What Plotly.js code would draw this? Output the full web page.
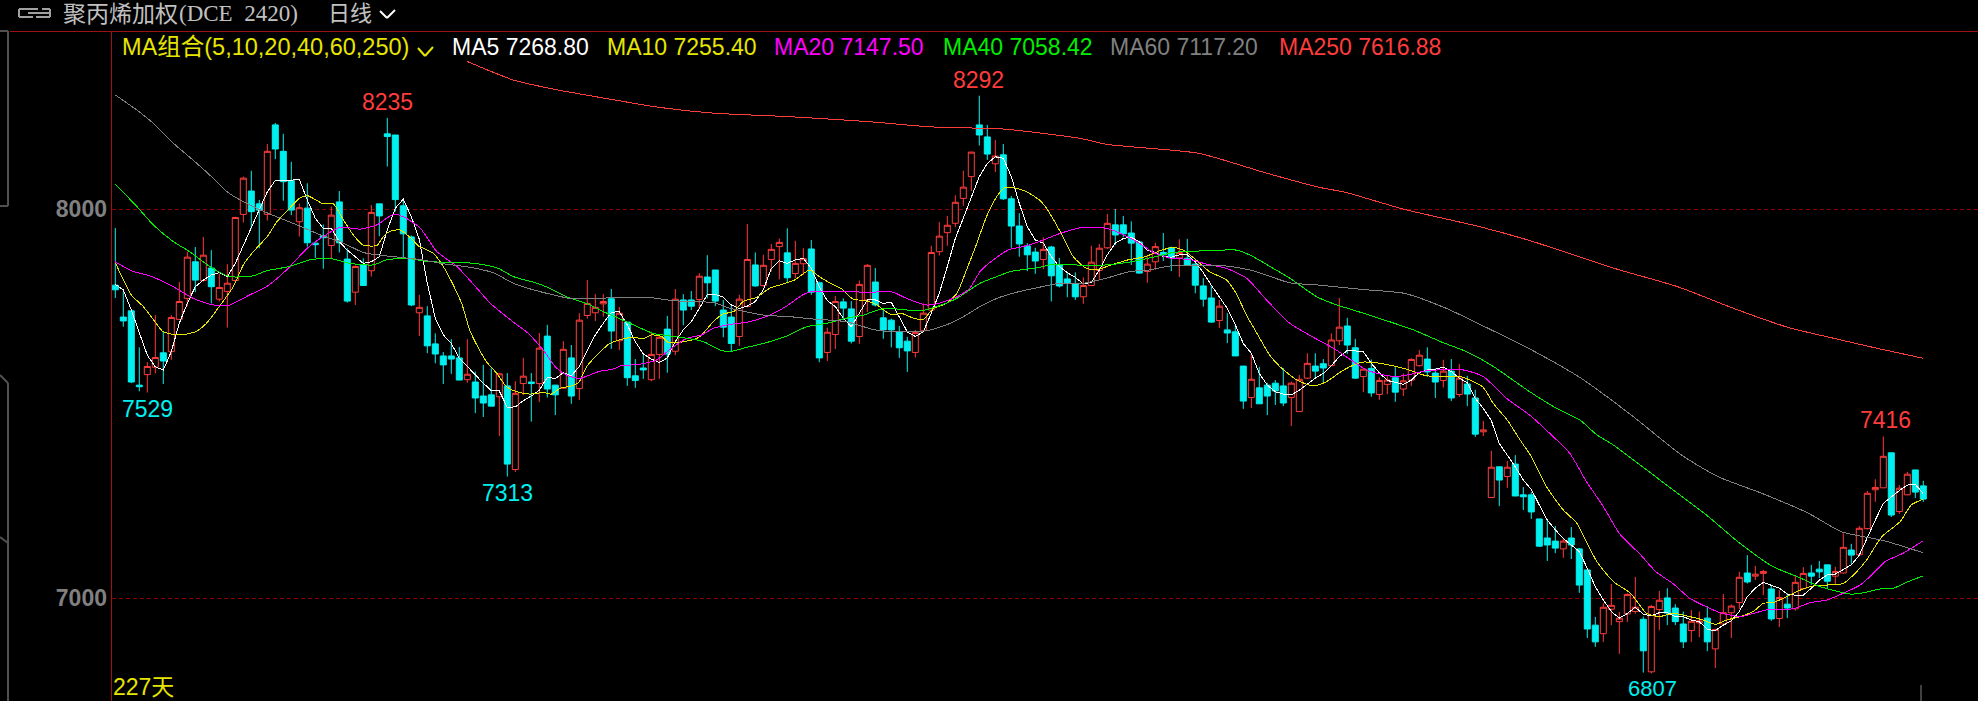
<!DOCTYPE html>
<html>
<head>
<meta charset="utf-8">
<script src="https://cdn.plot.ly/plotly-3.0.1.min.js"></script>
<style>html,body{margin:0;padding:0;background:#000;overflow:hidden}#chart{width:1978px;height:701px}
.scatterlayer .js-line{shape-rendering:crispEdges}</style>
</head>
<body>
<div id="chart"></div>
<script>
const opens=[7805,7723,7739,7548,7575,7594,7631,7634,7717,7771,
7865,7817,7849,7769,7789,7817,7987,8047,8014,7987,
8217,8149,8074,7968,8003,7913,7932,7907,8019,7872,
7787,7858,7842,8014,8194,8191,8009,7929,7734,7726,
7654,7623,7623,7618,7562,7556,7520,7523,7518,7546,
7331,7552,7556,7552,7674,7548,7540,7618,7539,7727,
7734,7757,7770,7662,7710,7572,7592,7562,7627,7692,
7635,7767,7767,7768,7826,7844,7741,7723,7673,7750,
7857,7804,7871,7904,7888,7835,7860,7898,7811,7632,
7678,7762,7744,7673,7767,7813,7721,7715,7685,7661,
7632,7688,7741,7891,7940,7964,8028,8084,8217,8186,
8117,8140,8027,7957,7906,7890,7871,7903,7857,7821,
7809,7775,7804,7843,7901,7960,7960,7939,7916,7840,
7865,7889,7901,7875,7874,7859,7803,7772,7714,7690,
7685,7597,7516,7541,7548,7553,7546,7516,7480,7566,
7597,7603,7598,7662,7700,7644,7570,7591,7524,7550,
7567,7538,7561,7598,7615,7579,7560,7584,7524,7551,
7515,7428,7259,7338,7313,7345,7266,7266,7204,7155,
7147,7127,7155,7127,7073,6931,6909,6972,6940,6960,
6966,6946,6811,6971,7001,6975,6934,6917,6937,6949,
6870,6934,6963,6989,7065,7057,7064,7024,6948,6985,
6973,7025,7065,7075,7086,7057,7065,7124,7112,7179,
7279,7284,7374,7223,7266,7330,7289];
const closes=[7793,7713,7556,7544,7596,7619,7610,7722,7763,7877,
7818,7882,7801,7799,7810,7979,8080,7994,7998,8149,
8155,8071,7998,8004,7914,7909,7927,7985,7914,7764,
7853,7804,7992,7983,8187,8025,7937,7754,7748,7649,
7628,7600,7615,7561,7576,7515,7502,7494,7577,7345,
7527,7571,7552,7643,7538,7523,7640,7520,7715,7758,
7748,7763,7687,7733,7567,7560,7587,7627,7671,7628,
7769,7741,7751,7828,7811,7764,7697,7655,7769,7871,
7803,7856,7897,7915,7824,7861,7873,7787,7618,7684,
7763,7746,7661,7807,7856,7754,7690,7690,7644,7636,
7683,7733,7889,7931,7959,8018,8057,8147,8191,8142,
8137,8027,7957,7911,7883,7867,7897,7829,7803,7811,
7775,7804,7864,7900,7964,7934,7937,7913,7836,7859,
7904,7883,7875,7889,7857,7805,7769,7710,7751,7682,
7623,7507,7563,7500,7520,7533,7502,7553,7563,7604,
7584,7592,7664,7697,7651,7566,7589,7528,7560,7561,
7530,7559,7614,7625,7582,7556,7584,7515,7566,7525,
7422,7433,7337,7304,7337,7263,7261,7222,7134,7137,
7129,7147,7137,7034,6921,6888,6977,6982,6949,7010,
6977,6865,6979,6995,6962,6940,6888,6941,6942,6888,
6920,6963,6980,7054,7042,7062,7069,6947,7002,6975,
7041,7064,7057,7068,7044,7069,7131,7111,7180,7270,
7285,7365,7214,7283,7319,7273,7255];
const highs=[7952,7788,7739,7645,7607,7728,7685,7728,7813,7891,
7903,7929,7895,7835,7859,7981,8084,8099,8024,8168,
8222,8194,8122,8015,8067,7915,7961,8007,8047,7900,
7856,7874,8011,8014,8235,8191,8026,7933,7780,7751,
7681,7633,7666,7646,7666,7583,7600,7591,7580,7579,
7558,7618,7579,7682,7703,7549,7661,7651,7733,7818,
7782,7782,7795,7749,7710,7615,7626,7685,7677,7726,
7795,7782,7790,7836,7882,7844,7767,7754,7780,7962,
7889,7883,7911,7925,7951,7919,7900,7921,7814,7696,
7777,7771,7764,7817,7859,7849,7741,7719,7700,7672,
7690,7758,7906,7967,7983,8036,8099,8147,8292,8217,
8178,8168,8034,7990,7913,7901,7928,7906,7875,7837,
7838,7825,7906,7911,7988,8001,7983,7969,7919,7883,
7914,7939,7904,7923,7924,7863,7823,7803,7767,7733,
7703,7597,7628,7595,7554,7561,7592,7557,7574,7630,
7630,7615,7681,7772,7721,7667,7589,7614,7568,7571,
7594,7578,7617,7638,7645,7591,7613,7615,7602,7572,
7536,7456,7379,7338,7353,7368,7286,7273,7204,7204,
7186,7154,7183,7129,7073,6952,6987,7037,6965,7013,
7055,6953,6983,7019,7026,6985,6966,6970,6966,6980,
6922,7011,6984,7068,7111,7083,7073,7034,7021,7013,
7060,7080,7086,7096,7086,7081,7167,7140,7186,7276,
7306,7416,7374,7291,7325,7330,7302];
const lows=[7772,7698,7553,7532,7529,7578,7551,7613,7715,7751,
7787,7814,7758,7763,7696,7813,7966,7950,7900,7971,
8129,8022,7985,7930,7904,7875,7847,7874,7889,7760,
7754,7803,7827,7931,8110,7994,7874,7751,7674,7630,
7604,7551,7577,7561,7554,7476,7466,7494,7417,7313,
7325,7522,7454,7505,7516,7471,7538,7500,7510,7719,
7713,7724,7641,7638,7546,7541,7564,7558,7564,7580,
7625,7702,7741,7745,7771,7751,7671,7634,7649,7748,
7801,7801,7840,7820,7810,7823,7831,7780,7607,7610,
7641,7715,7655,7654,7736,7750,7667,7645,7618,7582,
7619,7686,7737,7881,7906,7954,8009,8047,8164,8127,
8096,8024,7901,7878,7841,7834,7846,7763,7799,7774,
7767,7757,7803,7818,7898,7908,7928,7857,7835,7811,
7844,7867,7841,7826,7854,7784,7750,7708,7695,7656,
7623,7487,7489,7500,7471,7497,7494,7443,7480,7564,
7564,7553,7597,7651,7628,7564,7530,7518,7510,7525,
7505,7520,7546,7596,7569,7515,7542,7507,7518,7494,
7415,7417,7259,7237,7284,7263,7227,7204,7132,7096,
7116,7104,7101,7014,6898,6875,6888,6931,6857,6939,
6960,6809,6807,6918,6931,6931,6872,6888,6900,6864,
6821,6931,6898,6972,7038,7047,7008,6942,6926,6949,
6968,7023,7034,7052,7024,7037,7064,7088,7111,7177,
7248,7284,7209,7217,7265,7258,7248];
const ma5=[7807,7793,7741,7681,7625,7595,7587,7634,7707,7758,
7801,7818,7831,7837,7827,7861,7908,7955,7998,8045,
8074,8074,8075,8077,8024,7977,7951,7951,7917,7895,
7878,7861,7865,7878,7947,8003,8026,7981,7923,7810,
7720,7677,7655,7617,7596,7574,7553,7534,7533,7491,
7492,7508,7520,7535,7568,7565,7580,7572,7596,7638,
7677,7707,7735,7737,7703,7660,7628,7615,7606,7618,
7660,7690,7711,7745,7781,7781,7774,7754,7745,7751,
7763,7793,7848,7868,7861,7870,7874,7848,7801,7765,
7750,7720,7698,7733,7767,7767,7758,7761,7724,7685,
7673,7685,7733,7784,7853,7925,7977,8033,8084,8118,
8135,8131,8084,8015,7955,7921,7913,7878,7853,7837,
7825,7808,7812,7844,7883,7913,7925,7928,7917,7895,
7889,7878,7877,7883,7883,7865,7837,7805,7775,7745,
7703,7655,7630,7578,7548,7531,7525,7523,7535,7551,
7566,7578,7598,7621,7637,7636,7634,7604,7580,7560,
7554,7550,7561,7580,7587,7589,7594,7583,7566,7554,
7514,7488,7457,7398,7368,7338,7304,7280,7240,7201,
7176,7154,7137,7120,7077,7030,6996,6966,6949,6961,
6977,6959,6955,6963,6963,6953,6953,6944,6940,6920,
6917,6931,6942,6966,7004,7026,7041,7034,7026,7011,
7008,7008,7026,7047,7060,7062,7075,7086,7111,7158,
7201,7244,7261,7277,7291,7293,7269];
const ma10X=[0,2,3.5,4.8,6,8,10,11.4,13,14.75,16,17.25,19,20.2,21.4,23,24,26,27.25,28.5,29.75,31,32.7,33.5,34.3,35.6,37,38,38.5,39.75,41,42.25,43.3,44.3,45.4,46.4,47.7,48.9,50.2,51.8,53.5,54.5,55.6,56.8,57.9,58.9,60.2,61.8,63,64.75,66,67,68.3,69.1,70.6,72.7,73.3,74.75,76,77.3,78.5,80.2,81.8,83.5,84.9,86.8,88,89.3,90.9,92.2,93.9,95.2,96.8,98.5,99.75,101,102.25,103.9,105.2,106.4,107.7,108.9,110.2,111.2,112.7,113.9,115.5,116.4,118.1,119.75,121.4,122.9,124.5,126.6,128.7,130.8,132.25,133.5,135.1,136.75,138.9,140.1,141.4,142.6,144.3,145.6,147.7,149.75,151.4,153.1,154.3,155.8,158.1,161.4,163.9,168.1,169.75,171,172.25,174,175.6,177,178.9,181,182.7,184,185.2,187.25,189.4,191,191.4,193,194.75,196.8,198.5,200,201.4,203.1,204.75,206,207.25,208.9,210.6,212.25,213.9,216,217.7,218.9,220.8,223.1,224.5,226];
const ma10Y=[7863,7780,7750,7715,7685,7677,7685,7707,7750,7801,7857,7891,7930,7968,7994,8028,8035,8014,8014,7973,7934,7908,7907,7930,7943,7947,7925,7904,7900,7887,7853,7805,7758,7690,7643,7608,7578,7544,7531,7525,7529,7525,7540,7545,7554,7595,7625,7655,7664,7671,7667,7677,7673,7658,7658,7668,7677,7711,7731,7737,7763,7774,7797,7808,7818,7844,7827,7811,7794,7769,7765,7754,7731,7731,7720,7717,7745,7758,7784,7844,7913,7981,8033,8056,8054,8045,8024,8003,7943,7878,7848,7846,7857,7870,7878,7895,7902,7895,7870,7840,7818,7784,7728,7685,7625,7595,7561,7546,7557,7581,7595,7607,7604,7589,7572,7570,7557,7542,7501,7458,7407,7364,7287,7227,7193,7141,7094,7043,7013,6970,6961,6953,6961,6953,6944,6933,6944,6953,6966,6987,6989,7004,7021,7032,7034,7038,7069,7098,7158,7197,7240,7255];
const ma20X=[0,2,4.3,7.25,9.75,12.25,14.3,16.8,18.9,21.4,24,26,28.1,30.6,32.7,34.75,36,38.1,40.2,42.7,45.2,46.9,50.2,51.4,53.5,55,56.4,58,60.6,62.2,63.1,65.6,67.7,69.35,71.4,73.3,74.75,76.8,79.3,81.8,83.9,86,87,90.9,94.3,97.2,98.9,101.4,102.7,105.2,106.8,108.1,109.75,111.8,113.5,115.6,118.1,120.75,123.9,126.4,128,129.75,132,134.3,136.4,138.9,141.4,143.9,146.8,149.75,152.25,154.3,156.4,159.1,161,163.9,168.5,171,173.9,176.8,179.3,181.8,183.9,186,188,190.6,192.6,194.7,196.8,198.9,200.6,203.1,204.75,206.8,209.75,211.9,214,216,218.1,219.75,221.2,223.5,226];
const ma20Y=[7865,7842,7829,7801,7771,7754,7754,7780,7801,7844,7900,7930,7954,7949,7960,7987,7981,7952,7891,7853,7797,7758,7703,7685,7638,7595,7574,7565,7584,7589,7597,7602,7613,7640,7668,7677,7694,7704,7711,7728,7751,7781,7788,7788,7787,7787,7771,7754,7757,7775,7797,7840,7870,7897,7904,7918,7938,7953,7951,7931,7913,7889,7874,7871,7859,7848,7823,7767,7707,7671,7643,7615,7587,7572,7572,7585,7587,7570,7514,7471,7424,7373,7300,7236,7167,7113,7068,7038,7000,6978,6963,6953,6961,6972,6973,6989,6996,7013,7034,7064,7094,7116,7148];
const ma40X=[0,2.7,4.75,7.25,9.3,11.8,14.3,17.25,18.9,21.8,24.3,26.8,29.3,32.25,33.9,36.4,39.3,42.7,45.6,47.9,49.75,52.7,54.3,56.4,58.9,61,63.9,67.25,71,73.5,75.6,76.8,78.9,81,83.9,86.4,88.9,91.4,93.5,95.6,96.8,100.6,102.7,105.2,108.1,110.2,111.9,115.4,117.25,122.25,126.4,129.75,132.25,137.25,140.2,142.25,144.75,146.8,150.2,152.7,154.3,162.25,166,168.9,172.25,176.8,180.2,183.1,185.2,187.25,190.6,194.75,198.9,203.1,207.25,210.2,213.1,216.8,218.5,220.6,222.25,223.9,226];
const ma40Y=[8065,8007,7960,7917,7891,7853,7827,7829,7842,7853,7870,7874,7861,7857,7870,7874,7865,7864,7859,7848,7827,7810,7797,7775,7758,7737,7711,7681,7670,7660,7638,7634,7645,7655,7674,7698,7707,7720,7728,7743,7745,7739,7750,7771,7810,7827,7840,7850,7859,7855,7863,7877,7889,7894,7895,7878,7848,7823,7775,7754,7744,7690,7657,7634,7596,7531,7488,7458,7420,7394,7343,7278,7214,7141,7081,7056,7030,7011,7014,7024,7026,7041,7058];
const ma60X=[0,2.7,4.75,7.25,10.2,12.7,14.1,16.8,19.3,22.7,26,28.1,31,33.1,38,41,44.3,47.25,49.75,52.25,54.75,56.8,59.75,66.4,69.75,74.75,76.8,81,84.3,87.25,91.4,94.75,97.6,101.4,103.9,106,108.1,110.2,112.7,115.6,118.1,121,123.9,126.8,129.25,131.75,138.5,142.25,146.8,150.6,155.8,161.1,166.3,171.6,176.8,183.2,189.5,195.8,200.3,205.8,211.6,215.8,221.1,226];
const ma60Y=[8294,8255,8221,8170,8118,8071,8043,8011,7988,7960,7931,7917,7889,7882,7871,7860,7851,7837,7810,7793,7780,7771,7771,7774,7765,7760,7746,7728,7724,7718,7711,7691,7685,7688,7703,7724,7750,7771,7787,7800,7810,7810,7823,7840,7844,7854,7855,7842,7811,7805,7794,7784,7746,7694,7641,7566,7471,7368,7313,7270,7219,7171,7148,7117];
const ma250X=[44,49.8,55,61.3,68,74.9,84.4,94.4,101.8,111.2,120.7,123.9,135.4,143.9,150.6,153.7,161.1,170.6,176.9,187.4,195.3,202.2,209,215.3,220.6,226];
const ma250Y=[8380,8332,8308,8285,8262,8247,8238,8225,8212,8206,8182,8167,8144,8093,8056,8044,8000,7955,7919,7848,7801,7746,7697,7666,7641,7617];
const yTicks=[7000,8000];
const yTickText=['7000','8000'];

const WIDTH=1978, HEIGHT=701, L=112, T=32;
const PW=WIDTH-L, PH=HEIGHT-T;
const px=x=>(x-L)/PW, py=y=>1-(y-T)/PH;
const idx=opens.map((_,i)=>i);

const RED='#ff3c3c', CYAN='#00f0f0', YEL='#e6e600', MAG='#ff00ff', GRN='#00ee00', GRY='#808080', DRED='#a01010';
const lineTrace=(x,y,color,shape)=>({type:'scatter',mode:'lines',x,y,line:{color,width:1,shape:shape||'spline',smoothing:0.6},hoverinfo:'skip',showlegend:false});

const traces=[
 {type:'candlestick',x:idx,open:opens,high:highs,low:lows,close:closes,whiskerwidth:0,
  increasing:{line:{color:RED,width:1},fillcolor:'#000000'},
  decreasing:{line:{color:CYAN,width:1},fillcolor:CYAN},
  hoverinfo:'skip',showlegend:false},
 lineTrace(idx,ma5,'#ffffff','linear'),
 lineTrace(ma10X,ma10Y,YEL),
 lineTrace(ma20X,ma20Y,MAG),
 lineTrace(ma40X,ma40Y,GRN),
 lineTrace(ma60X,ma60Y,GRY),
 lineTrace(ma250X,ma250Y,RED)
];

const seg=(x0,y0,x1,y1,color,w)=>({type:'line',xref:'paper',yref:'paper',x0:px(x0),y0:py(y0),x1:px(x1),y1:py(y1),line:{color,width:w||1},layer:'above'});
const txt=(x,y,text,color,size,anchor,family)=>({xref:'paper',yref:'paper',x:px(x),y:py(y),text,showarrow:false,xanchor:anchor||'left',yanchor:'middle',font:{family:family||'"Liberation Sans","Noto Sans CJK SC",sans-serif',size:size||23,color},borderpad:0,borderwidth:0});

const shapes=[
 seg(10,31.5,1978,31.5,DRED),
 seg(111.5,32,111.5,701,DRED),
 seg(0,31,8,31,'#505050',2), seg(8,31,8,206,'#505050',2), seg(0,206,8,206,'#505050',2),
 seg(0,375,8,383,'#505050',2), seg(8,383,8,701,'#505050',2), seg(0,537,8,543,'#505050',2),
 seg(19,9,38,9,'#a0a0a0',2), seg(19,9,19,17,'#a0a0a0',2), seg(19,17,33,17,'#a0a0a0',2),
 seg(28,13,50,13,'#a0a0a0',2), seg(42,9,50,9,'#a0a0a0',2), seg(50,9,50,17,'#a0a0a0',2), seg(36,17,50,17,'#a0a0a0',2),
 seg(380,11,387,18,'#ffffff',2), seg(387,18,395,10,'#ffffff',2),
 seg(418,48,425,56,YEL,2), seg(425,56,433,47,YEL,2),
 seg(1921,685,1921,701,'#808080')
];

const annotations=[
 txt(63,14,'聚丙烯加权','#c0c0c0',23),
 txt(179,14,'(DCE\u00a0\u00a02420)','#c0c0c0',23,'left','"Liberation Serif",serif'),
 txt(328,14,'日线','#c0c0c0',22),
 txt(122,47,'MA组合(5,10,20,40,60,250)',YEL,23.5),
 txt(452,47,'MA5 7268.80','#ffffff'),
 txt(607,47,'MA10 7255.40',YEL),
 txt(774,47,'MA20 7147.50',MAG),
 txt(943,47,'MA40 7058.42',GRN),
 txt(1110,47,'MA60 7117.20',GRY),
 txt(1279,47,'MA250 7616.88',RED),
 txt(387,102,'8235',RED,23,'center'),
 txt(978.6,80,'8292',RED,23,'center'),
 txt(147,409,'7529',CYAN,23,'center'),
 txt(507,493,'7313',CYAN,23,'center'),
 txt(1652.5,688.5,'6807',CYAN,22,'center'),
 txt(1885,420,'7416',RED,23,'center'),
 txt(112.5,686.5,'227天',YEL,23)
];

const layout={
 width:WIDTH,height:HEIGHT,
 margin:{l:L,r:0,t:T,b:0,pad:0},
 paper_bgcolor:'#000000',plot_bgcolor:'#000000',
 showlegend:false,
 boxgap:0.25,boxgroupgap:0,
 xaxis:{type:'linear',range:[(L-115.3)/8,(WIDTH-115.3)/8],visible:false,showgrid:false,zeroline:false,rangeslider:{visible:false},fixedrange:true},
 yaxis:{type:'linear',range:[8000-(HEIGHT-209.3)/0.389,8000+(209.3-T)/0.389],tickvals:yTicks,ticktext:yTickText,
  showgrid:true,gridcolor:'#900000',griddash:'4px,3px',gridwidth:1,zeroline:false,showline:false,ticks:'',
  ticklabelstandoff:4,
  tickfont:{family:'"Liberation Sans",sans-serif',size:23,color:'#808080',weight:'bold'},fixedrange:true},
 shapes,annotations,
 hovermode:false
};
Plotly.newPlot('chart',traces,layout,{displayModeBar:false,staticPlot:true});
</script>
</body>
</html>
